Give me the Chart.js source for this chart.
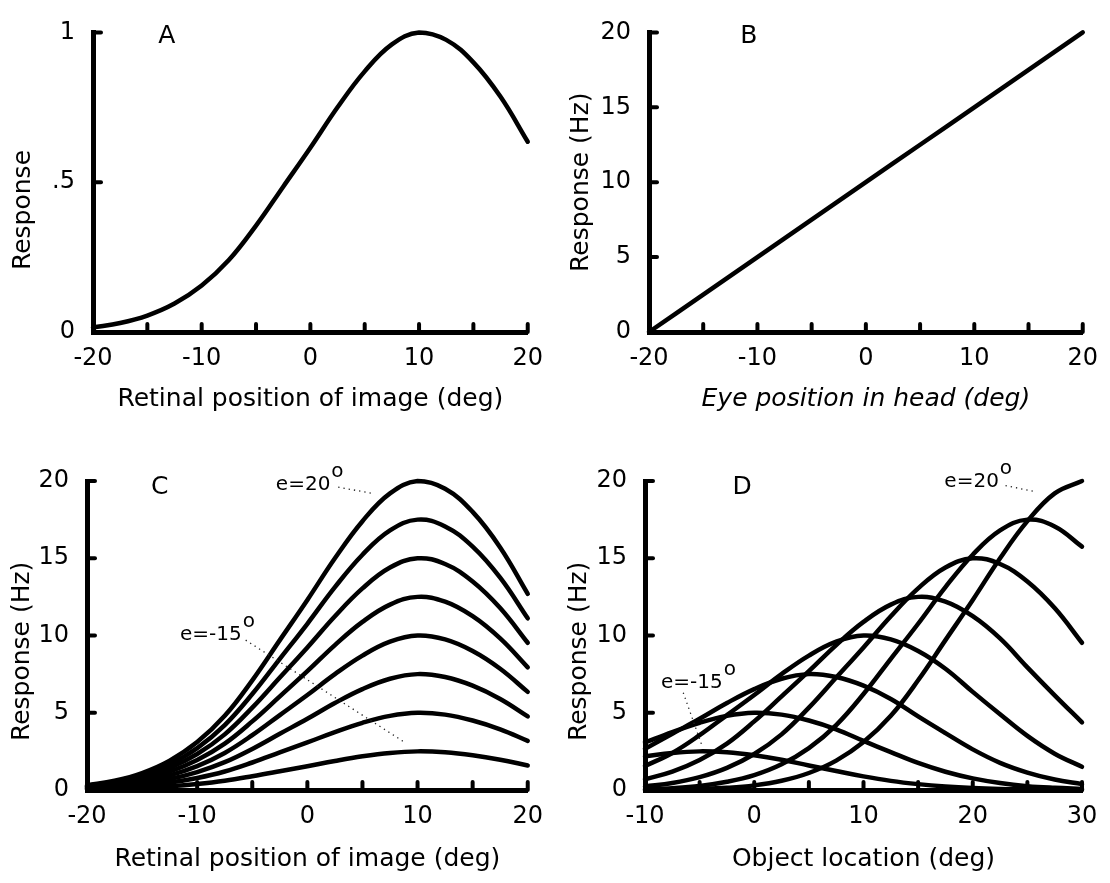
<!DOCTYPE html>
<html>
<head>
<meta charset="utf-8">
<title>Gain field model</title>
<script src="https://cdn.jsdelivr.net/npm/chart.js@4.4.1/dist/chart.umd.min.js"></script>
<style>
  html, body { margin: 0; padding: 0; background: #fff; }
  #figure { position: relative; width: 1110px; height: 883px; }
  #figure canvas { position: absolute; }
</style>
</head>
<body>
<div id="figure">
  <canvas id="panel-a" width="555" height="441" style="left:0;top:0"></canvas>
  <canvas id="panel-b" width="555" height="441" style="left:555px;top:0"></canvas>
  <canvas id="panel-c" width="555" height="442" style="left:0;top:441px"></canvas>
  <canvas id="panel-d" width="555" height="442" style="left:555px;top:441px"></canvas>
</div>
<script>
// x positions (deg)
const retinalDeg = [-20, -17.5, -15, -12.5, -10, -7.5, -5, -2.5, 0, 2.5, 5, 7.5, 10, 12.5, 15, 17.5, 20];
const objectDeg = [-10, -7.5, -5, -2.5, 0, 2.5, 5, 7.5, 10, 12.5, 15, 17.5, 20, 22.5, 25, 27.5, 30];
const eyeDeg = [-20, -15, -10, -5, 0, 5, 10, 15, 20];

// A: visual response vs retinal position
const responseA = [0.015, 0.03, 0.055, 0.095, 0.155, 0.24, 0.355, 0.485, 0.615, 0.75, 0.87, 0.96, 1.0, 0.975, 0.9, 0.785, 0.635];

// B: eye position gain (Hz)
const responseB = [0, 2.5, 5, 7.5, 10, 12.5, 15, 17.5, 20];

// C: response vs retinal position, one curve per eye position
const retinalEm15 = [0.04, 0.08, 0.14, 0.24, 0.39, 0.6, 0.89, 1.21, 1.54, 1.88, 2.18, 2.4, 2.5, 2.44, 2.25, 1.96, 1.59];
const retinalEm10 = [0.08, 0.15, 0.28, 0.48, 0.78, 1.2, 1.78, 2.43, 3.08, 3.75, 4.35, 4.8, 5.0, 4.88, 4.5, 3.93, 3.18];
const retinalEm5 = [0.11, 0.23, 0.41, 0.71, 1.16, 1.8, 2.66, 3.64, 4.61, 5.63, 6.53, 7.2, 7.5, 7.31, 6.75, 5.89, 4.76];
const retinalE0 = [0.15, 0.3, 0.55, 0.95, 1.55, 2.4, 3.55, 4.85, 6.15, 7.5, 8.7, 9.6, 10, 9.75, 9.0, 7.85, 6.35];
const retinalE5 = [0.19, 0.38, 0.69, 1.19, 1.94, 3.0, 4.44, 6.06, 7.69, 9.38, 10.88, 12.0, 12.5, 12.19, 11.25, 9.81, 7.94];
const retinalE10 = [0.23, 0.45, 0.83, 1.43, 2.33, 3.6, 5.33, 7.28, 9.23, 11.25, 13.05, 14.4, 15, 14.63, 13.5, 11.78, 9.53];
const retinalE15 = [0.26, 0.53, 0.96, 1.66, 2.71, 4.2, 6.21, 8.49, 10.76, 13.13, 15.23, 16.8, 17.5, 17.06, 15.75, 13.74, 11.11];
const retinalE20 = [0.3, 0.6, 1.1, 1.9, 3.1, 4.8, 7.1, 9.7, 12.3, 15.0, 17.4, 19.2, 20, 19.5, 18.0, 15.7, 12.7];

// D: same cells vs object location
const objectEm15 = [2.18, 2.4, 2.5, 2.44, 2.25, 1.96, 1.59, 1.23, 0.88, 0.59, 0.38, 0.23, 0.13, 0.07, 0.04, 0.02, 0.01];
const objectEm10 = [3.08, 3.75, 4.35, 4.8, 5.0, 4.88, 4.5, 3.93, 3.18, 2.45, 1.75, 1.18, 0.75, 0.45, 0.25, 0.14, 0.07];
const objectEm5 = [2.66, 3.64, 4.61, 5.63, 6.53, 7.2, 7.5, 7.31, 6.75, 5.89, 4.76, 3.68, 2.63, 1.76, 1.13, 0.68, 0.38];
const objectE0 = [1.55, 2.4, 3.55, 4.85, 6.15, 7.5, 8.7, 9.6, 10, 9.75, 9.0, 7.85, 6.35, 4.9, 3.5, 2.35, 1.5];
const objectE5 = [0.69, 1.19, 1.94, 3.0, 4.44, 6.06, 7.69, 9.38, 10.88, 12.0, 12.5, 12.19, 11.25, 9.81, 7.94, 6.13, 4.38];
const objectE10 = [0.23, 0.45, 0.83, 1.43, 2.33, 3.6, 5.33, 7.28, 9.23, 11.25, 13.05, 14.4, 15, 14.63, 13.5, 11.78, 9.53];
const objectE15 = [0.05, 0.12, 0.26, 0.53, 0.96, 1.66, 2.71, 4.2, 6.21, 8.49, 10.76, 13.13, 15.23, 16.8, 17.5, 17.06, 15.75];
const objectE20 = [0, 0.02, 0.06, 0.14, 0.3, 0.6, 1.1, 1.9, 3.1, 4.8, 7.1, 9.7, 12.3, 15.0, 17.4, 19.2, 20];

// tick labels
const xLabels20 = ['-20', '', '-10', '', '0', '', '10', '', '20'];
const xLabelsObj = ['-10', '', '0', '', '10', '', '20', '', '30'];
const yLabelsA = ['0', '.5', '1'];
const yLabelsHz = ['0', '5', '10', '15', '20'];

Chart.defaults.font.family = '"DejaVu Sans", sans-serif';
Chart.defaults.color = '#000';

// letters, e= labels and dotted leaders, in data units
const panelNotes = {
  'panel-a': { letter: ['A', -13.2, 0.985], labels: [], leaders: [] },
  'panel-b': { letter: ['B', -10.8, 19.7], labels: [], leaders: [] },
  'panel-c': {
    letter: ['C', -13.4, 19.55],
    labels: [['e=20', -2.86, 19.4], ['e=-15', -11.56, 9.7]],
    leaders: [[2.8, 19.6, 5.9, 19.2], [-5.6, 9.7, 8.8, 3.1]]
  },
  'panel-d': {
    letter: ['D', -1.1, 19.55],
    labels: [['e=20', 17.4, 19.6], ['e=-15', -8.54, 6.6]],
    leaders: [[23.0, 19.7, 25.8, 19.3], [-6.5, 6.3, -4.8, 2.9]]
  }
};

const notesPlugin = {
  id: 'notes',
  afterDraw(chart) {
    const notes = panelNotes[chart.canvas.id];
    const ctx = chart.ctx;
    const xs = chart.scales.x;
    const ys = chart.scales.y;
    ctx.save();

    // inward tick marks
    const area = chart.chartArea;
    ctx.strokeStyle = '#000';
    ctx.lineWidth = 4;
    ctx.lineCap = 'round';
    xs.ticks.forEach(t => {
      const px = xs.getPixelForValue(t.value);
      if (px - area.left < 2) return;
      ctx.beginPath();
      ctx.moveTo(px, area.bottom);
      ctx.lineTo(px, area.bottom - 8);
      ctx.stroke();
    });
    ys.ticks.forEach(t => {
      const py = ys.getPixelForValue(t.value);
      if (area.bottom - py < 2) return;
      ctx.beginPath();
      ctx.moveTo(area.left, py);
      ctx.lineTo(area.left + 8, py);
      ctx.stroke();
    });

    ctx.fillStyle = '#000';
    ctx.font = '25px "DejaVu Sans"';
    ctx.textAlign = 'center';
    ctx.textBaseline = 'middle';
    const [letter, lx, ly] = notes.letter;
    ctx.fillText(letter, xs.getPixelForValue(lx), ys.getPixelForValue(ly));

    ctx.font = '20px "DejaVu Sans"';
    ctx.textAlign = 'left';
    ctx.textBaseline = 'alphabetic';
    notes.labels.forEach(([text, x, y]) => {
      const px = xs.getPixelForValue(x);
      const py = ys.getPixelForValue(y);
      ctx.fillText(text, px, py);
      ctx.fillText('o', px + ctx.measureText(text).width + 1, py - 13);
    });

    ctx.strokeStyle = '#222';
    ctx.lineWidth = 1.3;
    ctx.lineCap = 'butt';
    ctx.setLineDash([1.3, 4]);
    notes.leaders.forEach(([x1, y1, x2, y2]) => {
      ctx.beginPath();
      ctx.moveTo(xs.getPixelForValue(x1), ys.getPixelForValue(y1));
      ctx.lineTo(xs.getPixelForValue(x2), ys.getPixelForValue(y2));
      ctx.stroke();
    });
    ctx.restore();
  }
};

function toPoints(xs, ys) {
  return xs.map((x, i) => ({ x: x, y: ys[i] }));
}

function curve(xs, ys) {
  return {
    data: toPoints(xs, ys),
    borderColor: '#000',
    borderWidth: 4.5,
    borderCapStyle: 'round',
    borderJoinStyle: 'round',
    pointRadius: 0,
    tension: 0.4,
    clip: false
  };
}

function makePanel(id, p) {
  return new Chart(document.getElementById(id), {
    type: 'line',
    data: { datasets: p.datasets },
    plugins: [notesPlugin],
    options: {
      responsive: false,
      animation: false,
      events: [],
      layout: { padding: { left: 0, right: p.right, top: p.top, bottom: p.bottom } },
      plugins: { legend: { display: false }, tooltip: { enabled: false } },
      scales: {
        x: {
          type: 'linear',
          min: p.xMin,
          max: p.xMax,
          grid: { display: false, drawTicks: false },
          border: { display: true, color: '#000', width: 5 },
          ticks: {
            stepSize: 5,
            autoSkip: false,
            maxRotation: 0,
            padding: 12,
            font: { size: 24 },
            callback: (v, i) => p.xLabels[i]
          },
          title: {
            display: true,
            text: p.xTitle,
            padding: { top: 0, bottom: 0 },
            font: { size: 25, style: p.xTitleStyle || 'normal' }
          },
          afterFit: s => { s.height = p.xHeight; }
        },
        y: {
          type: 'linear',
          min: 0,
          max: p.yMax,
          grid: { display: false, drawTicks: false },
          border: { display: true, color: '#000', width: 5 },
          ticks: {
            stepSize: p.yStep,
            padding: 18,
            font: { size: 24 },
            callback: (v, i) => p.yLabels[i]
          },
          title: {
            display: true,
            text: p.yTitle,
            padding: { top: p.yTitlePad, bottom: 0 },
            font: { size: 25 }
          },
          afterFit: s => { s.width = p.yWidth; }
        }
      }
    }
  });
}

makePanel('panel-a', {
  datasets: [curve(retinalDeg, responseA)],
  xMin: -20, xMax: 20, xLabels: xLabels20,
  yMax: 1, yStep: 0.5, yLabels: yLabelsA,
  xTitle: 'Retinal position of image (deg)',
  yTitle: 'Response       ',
  right: 25, top: 22, bottom: 27, xHeight: 82, yWidth: 93, yTitlePad: 8
});

makePanel('panel-b', {
  datasets: [curve(eyeDeg, responseB)],
  xMin: -20, xMax: 20, xLabels: xLabels20,
  yMax: 20, yStep: 5, yLabels: yLabelsHz,
  xTitle: 'Eye position in head (deg)', xTitleStyle: 'italic',
  yTitle: 'Response (Hz)',
  right: 24, top: 22, bottom: 27, xHeight: 82, yWidth: 94, yTitlePad: 11
});

makePanel('panel-c', {
  datasets: [retinalEm15, retinalEm10, retinalEm5, retinalE0, retinalE5, retinalE10, retinalE15, retinalE20]
    .map(s => curve(retinalDeg, s)),
  xMin: -20, xMax: 20, xLabels: xLabels20,
  yMax: 20, yStep: 5, yLabels: yLabelsHz,
  xTitle: 'Retinal position of image (deg)',
  yTitle: 'Response (Hz)    ',
  right: 27, top: 40, bottom: 9, xHeight: 84, yWidth: 87, yTitlePad: 7
});

makePanel('panel-d', {
  datasets: [objectEm15, objectEm10, objectEm5, objectE0, objectE5, objectE10, objectE15, objectE20]
    .map(s => curve(objectDeg, s)),
  xMin: -10, xMax: 30, xLabels: xLabelsObj,
  yMax: 20, yStep: 5, yLabels: yLabelsHz,
  xTitle: 'Object location (deg)',
  yTitle: 'Response (Hz)    ',
  right: 28, top: 40, bottom: 9, xHeight: 84, yWidth: 90, yTitlePad: 9
});
</script>
</body>
</html>
